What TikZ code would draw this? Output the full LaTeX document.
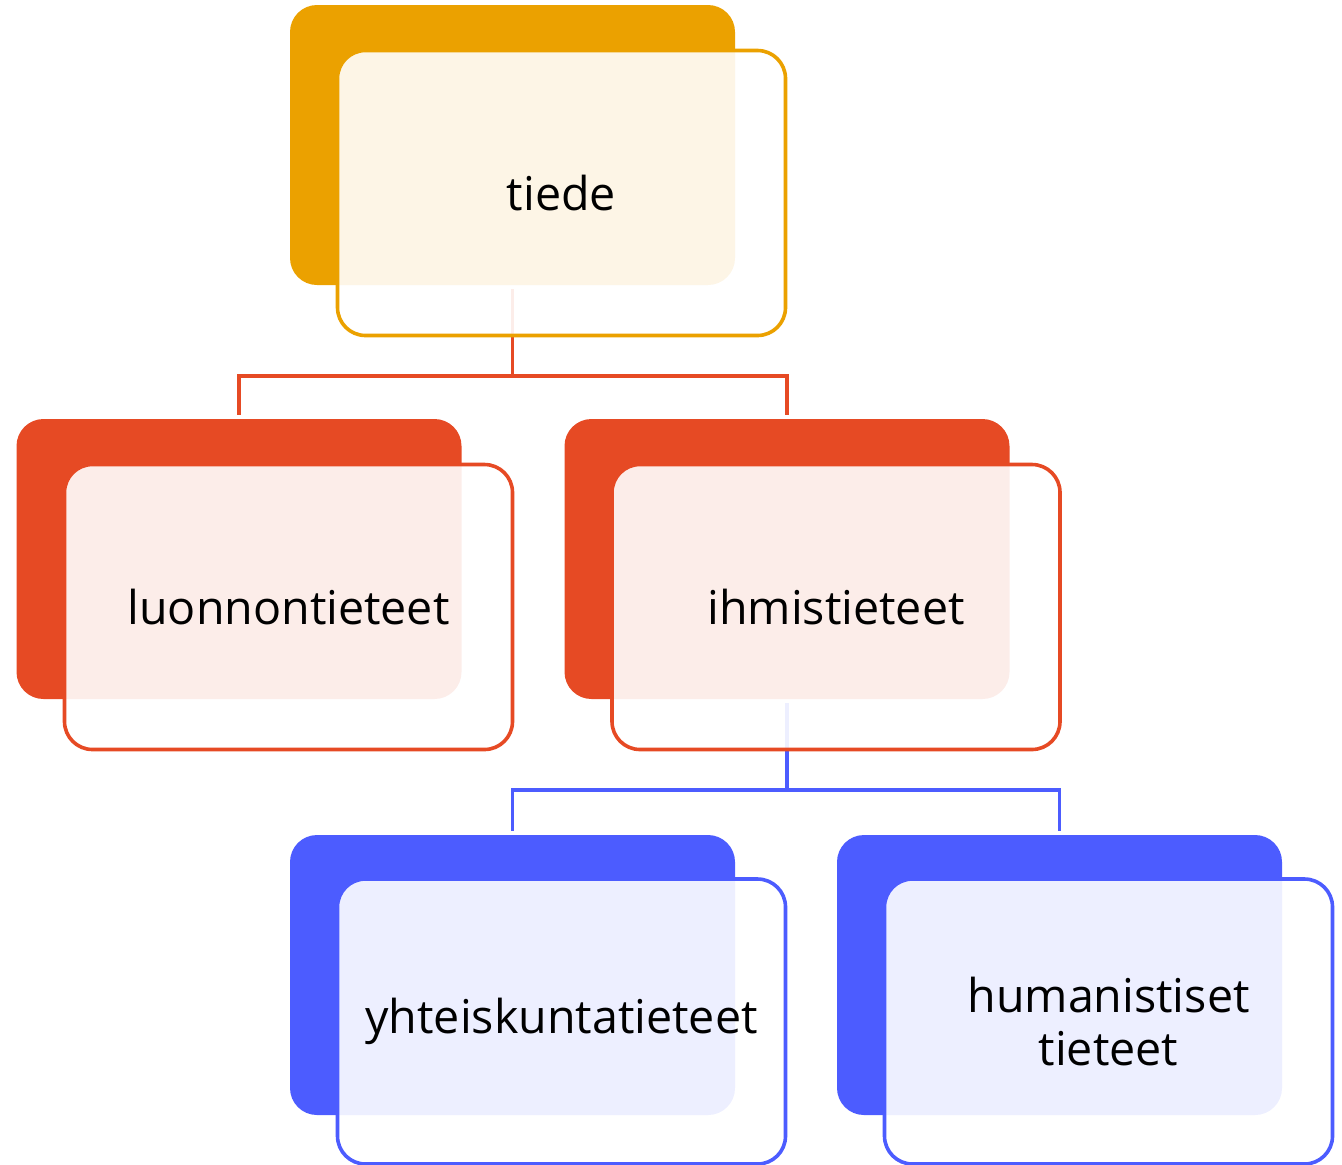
\documentclass[tikz,border=0pt]{standalone}
\usepackage{fontspec}
\setmainfont{Open Sans}
\definecolor{corange}{HTML}{EBA100}
\definecolor{cred}{HTML}{E64A24}
\definecolor{cblue}{HTML}{4C5CFF}
\tikzset{
  backbox/.style={rectangle, rounded corners=13.5pt, fill=#1, draw=none,
    minimum width=222.5pt, minimum height=140pt, inner sep=0pt, outer sep=0pt},
  frontbox/.style={rectangle, rounded corners=14pt, fill=white, fill opacity=0.9,
    draw=#1, draw opacity=1, line width=1.8pt,
    minimum width=224pt, minimum height=142.5pt, inner sep=0pt, outer sep=0pt},
  label/.style={font=\fontsize{23.3}{26.5}\selectfont, text=black, align=center, inner sep=0pt},
  conn/.style={draw=#1, line width=1.8pt}
}
\begin{document}
\begin{tikzpicture}[x=0.5pt,y=-0.5pt]
\useasboundingbox (0,0) rectangle (1342,1164);
% back boxes
\node[backbox=corange] (tb) at (512.5,145) {};
\node[backbox=cred] (lb) at (239,559) {};
\node[backbox=cred] (rb) at (787,559) {};
\node[backbox=cblue] (yb) at (512.5,975) {};
\node[backbox=cblue] (hb) at (1059.5,975) {};
% connectors
\coordinate (j1) at (512.5,376);
\coordinate (j2) at (787,790);
\draw[conn=cred, shorten <=2pt, shorten >=2pt] (tb.south) -- (j1) -| (lb.north);
\draw[conn=cred, shorten >=2pt] (j1) -| (rb.north);
\draw[conn=cblue, shorten <=2pt, shorten >=2pt] (rb.south) -- (j2) -| (yb.north);
\draw[conn=cblue, shorten >=2pt] (j2) -| (hb.north);
% front boxes
\node[frontbox=corange] (tf) at (561.5,193) {};
\node[frontbox=cred] (lf) at (288.5,607) {};
\node[frontbox=cred] (rf) at (836,607) {};
\node[frontbox=cblue] (yf) at (561.5,1021.5) {};
\node[frontbox=cblue] (hf) at (1108.5,1021.5) {};
% labels
\node[label] (tt) at (tf.center) {tiede};
\node[label] (lt) at (lf.center) {luonnontieteet};
\node[label] (rt) at (rf.center) {ihmistieteet};
\node[label] (yt) at (yf.center) {yhteiskuntatieteet};
\node[label] (ht) at (hf.center) {humanistiset\\tieteet};
\end{tikzpicture}
\end{document}
